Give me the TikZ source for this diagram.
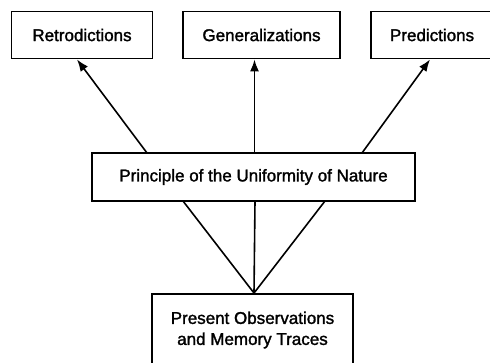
\documentclass[tikz,border=0pt]{standalone}
\usepackage{fontspec}
\setmainfont{Liberation Sans}
\newfontfamily\medfont[FakeBold=1.6]{Liberation Sans}
\usetikzlibrary{arrows.meta}
\begin{document}
\begin{tikzpicture}[x=1pt,y=-1pt,
  box/.style={draw,line width=1.9pt,inner sep=0pt,font=\medfont\fontsize{17}{21}\selectfont,align=center},
  conn/.style={line width=1.6pt},
  arr/.style={conn,-{Latex[length=12pt,width=9pt]}}]
\useasboundingbox (0,0) rectangle (490,363);
\fill[white] (0,0) rectangle (490,363);
\node[box,minimum width=141pt,minimum height=47pt] (retro) at (82,35) {Retrodictions};
\node[box,minimum width=157pt,minimum height=47pt] (gen) at (261.5,35) {Generalizations};
\node[box,minimum width=126pt,minimum height=47pt,text width=126pt,align=left] (pred) at (434,35) {\hspace*{19pt}Predictions};
\node[box,minimum width=323pt,minimum height=48pt] (pun) at (253.5,177) {Principle of the Uniformity of Nature};
\node[box,minimum width=201pt,minimum height=72pt] (pres) at (252.5,330) {Present Observations\\and Memory Traces};
\coordinate (a1) at (147,153);
\coordinate (a2) at (254.5,153);
\coordinate (a3) at (362,153);
\draw[arr] (a1) -- (retro.south -| 77,0);
\draw[arr] (a2) -- (gen.south -| 254.5,0);
\draw[arr] (a3) -- (pred.south -| 430,0);
\coordinate (b1) at (183,201);
\coordinate (b2) at (255,201);
\coordinate (b3) at (325,201);
\draw[conn,line join=miter] (b1) -- (pres.north -| 254,0) -- (b3);
\draw[conn] (b2) -- (pres.north -| 254,0);
\end{tikzpicture}
\end{document}
